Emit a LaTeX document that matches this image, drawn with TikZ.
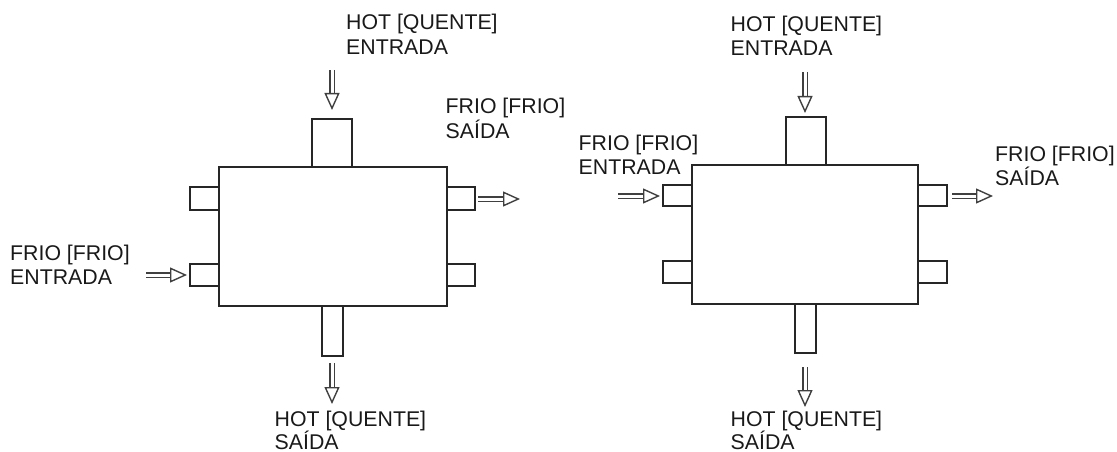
\documentclass[tikz,border=0pt]{standalone}
\usepackage{fontspec}
\setmainfont{Liberation Sans}
\usetikzlibrary{arrows.meta}
\tikzset{
  x=1pt,y=-1pt,
  unit/.style={draw=black!85,line width=1.2pt,fill=white,inner sep=0pt,outer sep=0pt},
  label/.style={align=left,anchor=north west,inner sep=0pt,font=\fontsize{21.3}{24.5}\selectfont,text=black!90},
  flow/.style={draw=black!75,line width=1.6pt,double=white,double distance=3pt,
    -{Triangle[open,fill=white,length=17pt,width=15pt,line width=1.4pt]}},
}
\newcommand{\boxat}[5]{\node[unit,minimum width=#3 pt,minimum height=#4 pt] (#5) at (#1,#2) {};}
\begin{document}
\begin{tikzpicture}
\useasboundingbox (0,0) rectangle (1117,452);
% left unit
\boxat{332}{143}{40}{48}{ltop}
\boxat{204.5}{198.5}{29}{23}{lla}
\boxat{204.5}{275}{29}{22}{llb}
\boxat{461}{198.5}{28}{23}{lra}
\boxat{461}{275}{28}{22}{lrb}
\boxat{332.5}{331}{21}{50}{lbot}
\boxat{333}{236.5}{228}{139}{lmain}
% right unit
\boxat{806}{141}{40}{48}{rtop}
\boxat{677.5}{195.5}{29}{21}{rla}
\boxat{677.5}{272}{29}{22}{rlb}
\boxat{932.5}{195.5}{29}{21}{rra}
\boxat{932.5}{272}{29}{22}{rrb}
\boxat{805.5}{328.5}{21}{49}{rbot}
\boxat{805}{234.5}{226}{139}{rmain}
% labels
\node[label] (t1) at (346,14) {HOT [QUENTE]\\ENTRADA};
\node[label] (t2) at (445.5,98) {FRIO [FRIO]\\SAÍDA};
\node[label] (t3) at (10,244.5) {FRIO [FRIO]\\ENTRADA};
\node[label] (t4) at (274.5,410.5) {HOT [QUENTE]\\[-1.5pt]SAÍDA};
\node[label] (t5) at (730.5,15.5) {HOT [QUENTE]\\ENTRADA};
\node[label] (t6) at (578.5,134.5) {FRIO [FRIO]\\ENTRADA};
\node[label] (t7) at (995,145.5) {FRIO [FRIO]\\SAÍDA};
\node[label] (t8) at (730.5,410.5) {HOT [QUENTE]\\[-1.5pt]SAÍDA};
% flow arrows
\coordinate (a1) at (332,70); \coordinate (b1) at (332,110);
\coordinate (a2) at (478,199); \coordinate (b2) at (520,199);
\coordinate (a3) at (146,275); \coordinate (b3) at (187,275);
\coordinate (a4) at (332,363); \coordinate (b4) at (332,404);
\coordinate (a5) at (805,72); \coordinate (b5) at (805,113);
\coordinate (a6) at (618,196); \coordinate (b6) at (660,196);
\coordinate (a7) at (952,196); \coordinate (b7) at (993,196);
\coordinate (a8) at (805,367); \coordinate (b8) at (805,407);
\foreach \i in {1,...,8} \draw[flow] (a\i) -- (b\i);
\end{tikzpicture}
\end{document}
